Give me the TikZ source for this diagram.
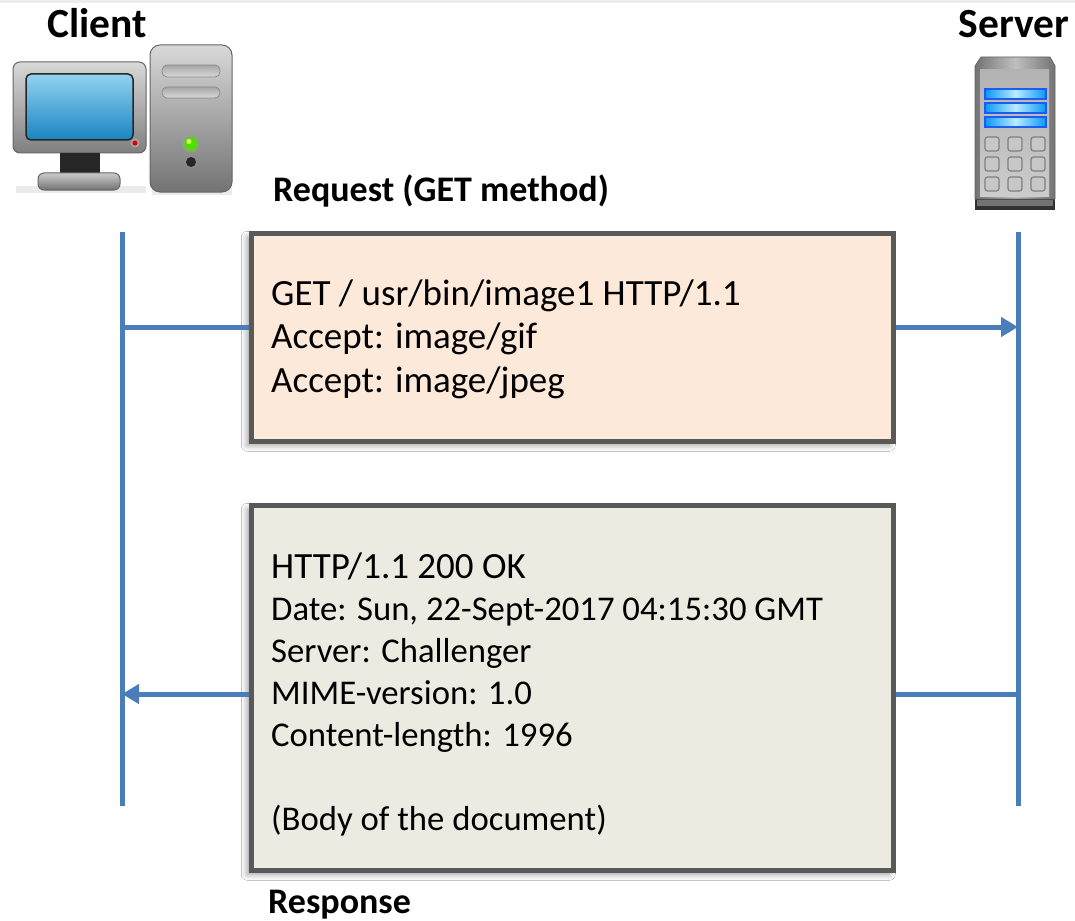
\documentclass[tikz,border=0pt]{standalone}
\usepackage{fontspec}
\setmainfont{Carlito}
\usetikzlibrary{arrows.meta,shadows.blur}

\definecolor{lifeblue}{HTML}{4A7EBB}
\definecolor{reqfill}{HTML}{FDE9DA}
\definecolor{respfill}{HTML}{EDEBE1}
\definecolor{boxborder}{HTML}{595959}
\definecolor{screentop}{HTML}{92D2EF}
\definecolor{screenbot}{HTML}{1A84C3}
\definecolor{barblue}{HTML}{1E5BF0}
\definecolor{barglow}{HTML}{B8ECFF}

\tikzset{
  title/.style={font=\fontsize{41.5}{41.5}\selectfont\bfseries, inner sep=0pt, anchor=base},
  caption/.style={font=\fontsize{36}{36}\selectfont\bfseries, inner sep=0pt, anchor=base west},
  msgbox/.style={draw=boxborder, line width=4.5pt, anchor=north west, inner sep=0pt,
    blur shadow={shadow xshift=-4pt, shadow yshift=-4pt, shadow blur radius=6pt, shadow opacity=40}},
  bigline/.style={font=\fontsize{37}{37}\selectfont, inner sep=0pt, anchor=base west},
  smallline/.style={font=\fontsize{34.7}{35}\selectfont, inner sep=0pt, anchor=base west},
  life/.style={draw=lifeblue, line width=5pt},
  msg/.style={draw=lifeblue, line width=5pt},
  msgarrow/.style={msg, -{Triangle[length=17pt,width=19pt]}},
}

\begin{document}
\begin{tikzpicture}[x=1pt,y=-1pt]
\useasboundingbox (0,0) rectangle (1075,920);
\fill[white] (0,0) rectangle (1075,920);
\fill[black!7] (0,0) rectangle (1075,3);

% ---- titles ----
\node[title] (clientlbl) at (97,38) {Client};
\node[title] (serverlbl) at (1014,38) {Server};

% ---- client workstation icon ----
\fill[black!8] (16,186) rectangle (146,193);
\fill[black!8] (152,188) rectangle (232,195);
% monitor
\draw[draw=black!60, line width=1pt, rounded corners=7pt, top color=black!15, bottom color=black!50]
  (13,62) rectangle (146,153);
\draw[draw=black!85, line width=1.5pt, rounded corners=5pt, top color=screentop, bottom color=screenbot]
  (26,74) rectangle (133,140);
\fill[black!35] (135,143) circle (4.5pt);
\fill[red!85!black] (135,143) circle (2.6pt);
% stand
\fill[black!85] (60,153) rectangle (100,175);
\draw[draw=black!60, line width=1pt, rounded corners=6pt, top color=black!20, bottom color=black!55]
  (38,173) rectangle (120,190);
% tower
\draw[draw=black!60, line width=1pt, rounded corners=10pt, top color=black!15, bottom color=black!55]
  (150,45) rectangle (232,192);
\draw[draw=black!45, line width=0.8pt, rounded corners=5pt, top color=black!35, bottom color=black!15]
  (162,65) rectangle (220,77);
\draw[draw=black!45, line width=0.8pt, rounded corners=5pt, top color=black!35, bottom color=black!15]
  (162,87) rectangle (220,98);
\fill[black!40] (191,144) circle (8.5pt);
\fill[green!60!yellow!85!black] (191,144) circle (7pt);
\fill[green!30!yellow!60!white] (189,141.5) circle (2.5pt);
\fill[black!45] (191,162) circle (6.5pt);
\fill[black!85] (191,162) circle (5pt);

% ---- server icon ----
\fill[black!80] (975,198) rectangle (1055,210);
\fill[black!55] (977,200) rectangle (1053,206);
\shade[left color=black!55, right color=black!55, middle color=black!25, draw=black!60, line width=0.8pt]
  (975,66) -- (981,57) -- (1050,57) -- (1055,66) -- (1055,199) -- (975,199) -- cycle;
\shade[top color=black!30, bottom color=black!20] (980,70) rectangle (1049,196);
\foreach \yy in {88,102,116} {
  \fill[barblue] (984,\yy) rectangle (1047,\yy+12);
  \shade[left color=barblue!60!cyan, right color=barblue!60!cyan, middle color=barglow]
    (986.5,\yy+2.5) rectangle (1044.5,\yy+9.5);
}
\foreach \cx in {992,1015,1038} {
  \foreach \cy in {144,164,184} {
    \draw[draw=black!50, fill=black!22, line width=1.2pt, rounded corners=2.5pt]
      (\cx-7,\cy-7) rectangle (\cx+7,\cy+7);
  }
}

% ---- lifelines ----
\coordinate (cltop) at (122,232);
\coordinate (clbot) at (122,806);
\coordinate (svtop) at (1018,232);
\coordinate (svbot) at (1018,806);
\draw[life] (cltop) -- (clbot);
\draw[life] (svtop) -- (svbot);

% ---- request ----
\node[caption] (reqlbl) at (273,201) {Request (GET method)};
\node[msgbox, fill=reqfill, minimum width=642pt, minimum height=208pt] (req) at (249,231) {};
\node[bigline] (r1) at (271,305) {GET / usr/bin/image1 HTTP/1.1};
\node[bigline] (r2) at (271,348.5) {Accept: image/gif};
\node[bigline] (r3) at (271,392) {Accept: image/jpeg};

\coordinate (m1) at (0,327);
\draw[msg] (cltop |- m1) -- (req.west |- m1);
\draw[msgarrow] (req.east |- m1) -- (svtop |- m1);

% ---- response ----
\node[msgbox, fill=respfill, minimum width=642pt, minimum height=365pt] (resp) at (249,503) {};
\node[bigline] (s1) at (271,578) {HTTP/1.1 200 OK};
\node[smallline] (s2) at (271,620) {Date: Sun, 22-Sept-2017 04:15:30 GMT};
\node[smallline] (s3) at (271,662) {Server: Challenger};
\node[smallline] (s4) at (271,704) {MIME-version: 1.0};
\node[smallline] (s5) at (271,746) {Content-length: 1996};
\node[smallline] (s6) at (271,830) {(Body of the document)};
\node[caption] (resplbl) at (268,913) {Response};

\coordinate (m2) at (0,694);
\draw[msg] (svtop |- m2) -- (resp.east |- m2);
\draw[msgarrow] (resp.west |- m2) -- (cltop |- m2);
\end{tikzpicture}
\end{document}
